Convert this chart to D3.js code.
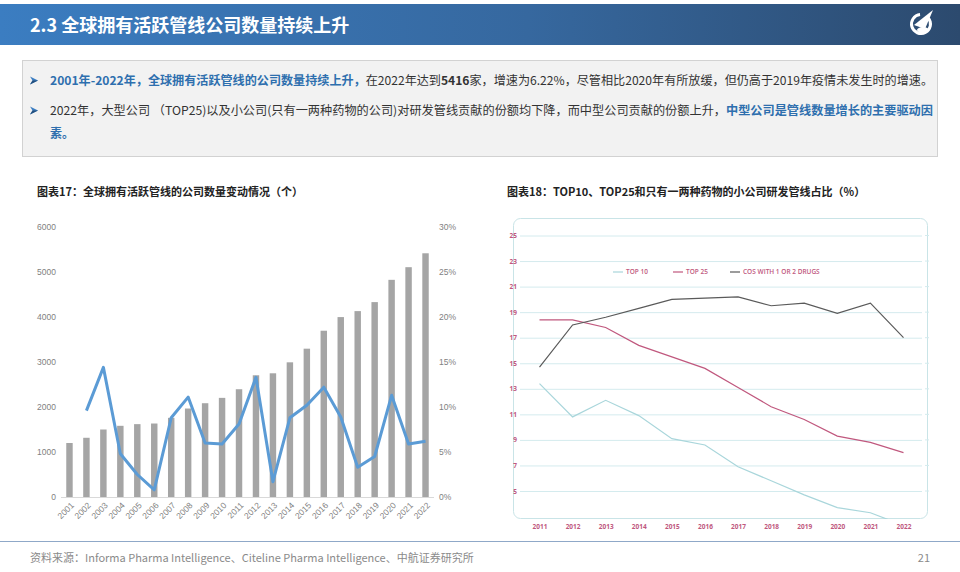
<!DOCTYPE html>
<html>
<head>
<meta charset="utf-8">
<script src="https://cdn.jsdelivr.net/npm/d3@7"></script>
<style>
  body { margin: 0; background: #fff; }
  svg { display: block; font-family: "Noto Sans CJK SC", "Noto Sans", sans-serif; }
</style>
</head>
<body>
<svg id="page" width="960" height="572"></svg>
<script>
  // ---- data ----
  const years = d3.range(2001, 2023).map(String);
  const companies = [1200, 1316, 1500, 1582, 1619, 1633, 1759, 1966, 2084, 2203, 2395, 2705,
                     2749, 2993, 3296, 3695, 3998, 4131, 4331, 4826, 5107, 5416];
  const growth = [null, 9.6, 14.4, 4.8, 2.5, 0.8, 8.8, 11.1, 6.0, 5.9, 8.1, 13.3,
                  1.7, 8.8, 10.2, 12.2, 8.9, 3.3, 4.5, 11.3, 5.9, 6.2];

  const years2 = d3.range(2011, 2023).map(String);
  const top10 = [13.4, 10.8, 12.1, 10.9, 9.1, 8.6, 6.9, 5.8, 4.7, 3.7, 3.3, 2.3];
  const top25 = [18.4, 18.4, 17.8, 16.4, 15.5, 14.6, 13.1, 11.6, 10.6, 9.3, 8.8, 8.0];
  const smallCos = [14.7, 18.0, 18.6, 19.3, 20.0, 20.1, 20.2, 19.5, 19.7, 18.9, 19.7, 17.0];
  const seriesNames = ["TOP 10", "TOP 25", "COS WITH 1 OR 2 DRUGS"];
  const seriesColors = ["#a9d6db", "#c0587e", "#5a5a5a"];
  const yTicks2 = [5, 7, 9, 11, 13, 15, 17, 19, 21, 23, 25];

  const svg = d3.select("#page");

  // ---- header band ----
  const defs = svg.append("defs");
  const grad = defs.append("linearGradient").attr("id", "hdr");
  grad.append("stop").attr("offset", "0%").attr("stop-color", "#3b7dc1");
  grad.append("stop").attr("offset", "55%").attr("stop-color", "#36689f");
  grad.append("stop").attr("offset", "100%").attr("stop-color", "#2c4a6e");
  svg.append("rect").attr("x", 0).attr("y", 4).attr("width", 960).attr("height", 41).attr("fill", "url(#hdr)");
  svg.append("text").attr("x", 30).attr("y", 32)
    .attr("fill", "#fff").attr("font-size", 18).attr("font-weight", "bold")
    .text("2.3 全球拥有活跃管线公司数量持续上升");

  // logo (simple)
  const logo = svg.append("g").attr("transform", "translate(921,24)");
  logo.append("path").attr("d", d3.arc()({innerRadius: 8, outerRadius: 11, startAngle: 0.9, endAngle: 2 * Math.PI - 0.1}))
    .attr("fill", "#fff");
  logo.append("path").attr("d", "M-7,1 L12,-14 L4,5 Z").attr("fill", "#fff");
  logo.append("ellipse").attr("cx", 2).attr("cy", 6).attr("rx", 6).attr("ry", 3).attr("fill", "#fff");

  // ---- summary box ----
  svg.append("rect").attr("x", 22.5).attr("y", 60.5).attr("width", 915).attr("height", 96)
    .attr("fill", "#f2f2f2").attr("stroke", "#d2d2d2");

  const blue = "#2e6fae";
  function bullet(y) {
    // arrowhead bullet
    const g = svg.append("g").attr("transform", `translate(30,${y - 4.5})`);
    g.append("path").attr("d", "M0,-4 L8,0 L0,4 L2.5,0 Z").attr("fill", "#3b7dc1");
    g.append("path").attr("d", "M0,4 L8,0 L2.5,0 Z").attr("fill", "#24507e");
  }
  bullet(85);
  const l1 = svg.append("text").attr("x", 50).attr("y", 85).attr("font-size", 12).attr("fill", "#333")
    .attr("textLength", 883).attr("lengthAdjust", "spacingAndGlyphs");
  l1.append("tspan").attr("fill", blue).attr("font-weight", "bold").text("2001年-2022年，全球拥有活跃管线的公司数量持续上升，");
  l1.append("tspan").text("在2022年达到");
  l1.append("tspan").attr("font-weight", "bold").text("5416");
  l1.append("tspan").text("家，增速为6.22%，尽管相比2020年有所放缓，但仍高于2019年疫情未发生时的增速。");

  bullet(115);
  const l2 = svg.append("text").attr("x", 50).attr("y", 115).attr("font-size", 12).attr("fill", "#333")
    .attr("textLength", 883).attr("lengthAdjust", "spacingAndGlyphs");
  l2.append("tspan").text("2022年，大型公司 （TOP25)以及小公司(只有一两种药物的公司)对研发管线贡献的份额均下降，而中型公司贡献的份额上升，");
  l2.append("tspan").attr("fill", blue).attr("font-weight", "bold").text("中型公司是管线数量增长的主要驱动因");
  svg.append("text").attr("x", 50).attr("y", 138).attr("font-size", 12).attr("fill", blue)
    .attr("font-weight", "bold").text("素。");

  // ---- chart titles ----
  svg.append("text").attr("x", 37).attr("y", 196).attr("font-size", 11).attr("font-weight", "bold").attr("fill", "#222")
    .text("图表17：全球拥有活跃管线的公司数量变动情况（个）");
  svg.append("text").attr("x", 507).attr("y", 196).attr("font-size", 11).attr("font-weight", "bold").attr("fill", "#222")
    .text("图表18：TOP10、TOP25和只有一两种药物的小公司研发管线占比（%）");

  // ---- left chart ----
  const x1 = d3.scaleBand().domain(years).range([61, 434]).paddingInner(0.62).paddingOuter(0.31);
  const y1 = d3.scaleLinear().domain([0, 6000]).range([497, 227]);
  const y1r = d3.scaleLinear().domain([0, 30]).range([497, 227]);

  const left = svg.append("g");
  left.selectAll("rect.bar").data(companies).join("rect")
    .attr("class", "bar")
    .attr("x", (d, i) => x1(years[i]))
    .attr("y", d => y1(d))
    .attr("width", x1.bandwidth())
    .attr("height", d => y1(0) - y1(d))
    .attr("fill", "#a5a5a5");

  const yAxisL = left.append("g").attr("transform", "translate(56,0)")
    .call(d3.axisLeft(y1).tickValues(d3.range(0, 6001, 1000)).tickSize(0).tickPadding(0).tickFormat(d3.format("d")));
  const yAxisR = left.append("g").attr("transform", "translate(439,0)")
    .call(d3.axisRight(y1r).tickValues(d3.range(0, 31, 5)).tickSize(0).tickPadding(0).tickFormat(d => d + "%"));
  [yAxisL, yAxisR].forEach(g => {
    g.select(".domain").remove();
    g.selectAll("text").attr("fill", "#7f7f7f").attr("font-size", 8.5)
      .attr("font-family", "Liberation Sans, sans-serif");
  });

  const xAxis1 = left.append("g").attr("transform", "translate(0,497)")
    .call(d3.axisBottom(x1).tickSize(0).tickPadding(0));
  xAxis1.select(".domain").attr("stroke", "#d9d9d9").attr("d", "M61,0.5H434");
  xAxis1.selectAll("text")
    .attr("fill", "#7f7f7f").attr("font-size", 8.5).attr("font-family", "Liberation Sans, sans-serif")
    .attr("text-anchor", "end").attr("dy", 0)
    .attr("transform", "translate(5,9) rotate(-45)");

  left.append("path").datum(growth.map((v, i) => [years[i], v]))
    .attr("fill", "none").attr("stroke", "#5b9bd5").attr("stroke-width", 3)
    .attr("stroke-linejoin", "round")
    .attr("d", d3.line()
      .defined(d => d[1] != null)
      .x(d => x1(d[0]) + x1.bandwidth() / 2)
      .y(d => y1r(d[1])));

  // ---- right chart ----
  const x2 = d3.scalePoint().domain(years2).range([539.5, 903.5]);
  const y2 = d3.scaleLinear().domain([5, 25]).range([491, 235.5]);
  const right = svg.append("g");

  defs.append("clipPath").attr("id", "plot2")
    .append("rect").attr("x", 513).attr("y", 219).attr("width", 415).attr("height", 300).attr("rx", 7);

  right.append("rect").attr("x", 513.5).attr("y", 218.5).attr("width", 414).attr("height", 300).attr("rx", 7)
    .attr("fill", "#fff").attr("stroke", "#c9e4e7");

  const yAxis2 = right.append("g").attr("transform", "translate(922,0)")
    .call(d3.axisLeft(y2).tickValues(yTicks2).tickSize(402).tickPadding(3));
  yAxis2.select(".domain").remove();
  yAxis2.selectAll("line").attr("stroke", "#d4ebee");
  yAxis2.selectAll("text").attr("fill", "#c0587e").attr("font-size", 6.5).attr("font-weight", "bold")
    .attr("font-family", "Open Sans, sans-serif");
  // small outside ticks on right edge
  right.selectAll("line.rt").data(yTicks2).join("line")
    .attr("class", "rt")
    .attr("x1", 925).attr("x2", 929)
    .attr("y1", d => y2(d)).attr("y2", d => y2(d))
    .attr("stroke", "#d4ebee");

  const xAxis2 = right.append("g").attr("transform", "translate(0,524)")
    .call(d3.axisBottom(x2).tickSize(0).tickPadding(0));
  xAxis2.select(".domain").remove();
  xAxis2.selectAll("text").attr("fill", "#c0587e").attr("font-size", 6.5).attr("font-weight", "bold")
    .attr("font-family", "Open Sans, sans-serif");

  const line2 = d3.line().x((d, i) => x2(years2[i])).y(d => y2(d));
  const plotLines = right.append("g").attr("clip-path", "url(#plot2)");
  [top10, top25, smallCos].forEach((s, k) => {
    plotLines.append("path").datum(s)
      .attr("fill", "none").attr("stroke", seriesColors[k]).attr("stroke-width", 1.2)
      .attr("d", line2);
  });

  // legend
  const legendX = [613, 673, 730];
  const legend = right.selectAll("g.lg").data(seriesNames).join("g")
    .attr("class", "lg")
    .attr("transform", (d, i) => `translate(${legendX[i]},272)`);
  legend.append("line").attr("x1", 0).attr("x2", 10).attr("y1", 0).attr("y2", 0)
    .attr("stroke", (d, i) => seriesColors[i]).attr("stroke-width", 1.2);
  legend.append("text").attr("x", 13).attr("y", 2.3).attr("font-size", 6.5).attr("font-weight", 600)
    .attr("fill", "#c0587e").attr("font-family", "Open Sans, sans-serif").text(d => d);

  // ---- footer ----
  svg.append("line").attr("x1", 0).attr("x2", 960).attr("y1", 541.5).attr("y2", 541.5)
    .attr("stroke", "#8fa8c8").attr("stroke-width", 1);
  svg.append("text").attr("x", 30).attr("y", 562).attr("font-size", 11).attr("fill", "#8a8a8a")
    .text("资料来源：Informa Pharma Intelligence、Citeline Pharma Intelligence、中航证券研究所");
  svg.append("text").attr("x", 930).attr("y", 562).attr("font-size", 11).attr("fill", "#8a8a8a")
    .attr("text-anchor", "end").text("21");
</script>
</body>
</html>
